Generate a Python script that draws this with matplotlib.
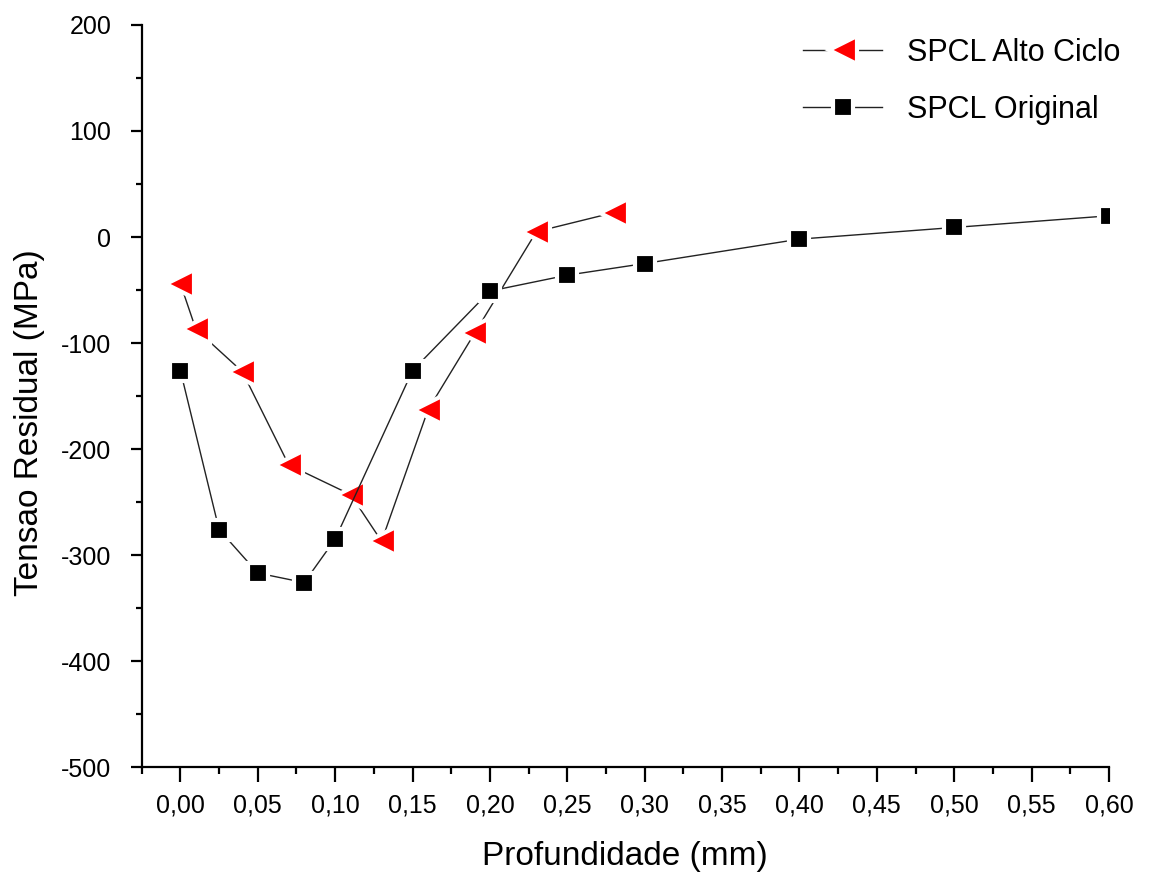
import matplotlib.pyplot as plt
from matplotlib.ticker import FuncFormatter, MultipleLocator

# data
prof_alto = [0.00, 0.01, 0.04, 0.07, 0.11, 0.13, 0.16, 0.19, 0.23, 0.28]
tensao_alto = [-44, -87, -127, -215, -243, -287, -163, -91, 5, 23]

prof_orig = [0.00, 0.025, 0.05, 0.08, 0.10, 0.15, 0.20, 0.25, 0.30, 0.40, 0.50, 0.60]
tensao_orig = [-126, -276, -317, -326, -285, -126, -51, -36, -25, -2, 9, 20]

plt.rcParams['font.family'] = ['Liberation Sans', 'DejaVu Sans']

fig = plt.figure(figsize=(11.52, 8.77), dpi=100)
ax = fig.add_axes([0.123, 0.1254, 0.8397, 0.8461])

ax.plot(prof_alto, tensao_alto, color='#222222', linewidth=1.0, marker='<',
        markersize=20, markerfacecolor='red', markeredgecolor='white',
        markeredgewidth=3, label='SPCL Alto Ciclo')
ax.plot(prof_orig, tensao_orig, color='#222222', linewidth=1.0, marker='s',
        markersize=14, markerfacecolor='black', markeredgecolor='white',
        markeredgewidth=3, label='SPCL Original')

ax.set_xlim(-0.025, 0.60)
ax.set_ylim(-500, 200)

ax.xaxis.set_major_locator(MultipleLocator(0.05))
ax.xaxis.set_minor_locator(MultipleLocator(0.025))
ax.yaxis.set_major_locator(MultipleLocator(100))
ax.yaxis.set_minor_locator(MultipleLocator(50))
ax.xaxis.set_major_formatter(FuncFormatter(lambda v, p: f'{v:.2f}'.replace('.', ',')))
ax.yaxis.set_major_formatter(FuncFormatter(lambda v, p: f'{v:.0f}'))

for spine in ('top', 'right'):
    ax.spines[spine].set_visible(False)
for spine in ('bottom', 'left'):
    ax.spines[spine].set_linewidth(1.6)

ax.tick_params(axis='x', which='major', direction='out', length=11, width=1.6,
               labelsize=18, pad=8)
ax.tick_params(axis='x', which='minor', direction='out', length=5, width=1.6)
ax.tick_params(axis='y', which='major', direction='out', length=8, width=1.6,
               labelsize=18, pad=14)
ax.tick_params(axis='y', which='minor', direction='out', length=4, width=1.6)

ax.set_xlabel('Profundidade (mm)', fontsize=24, labelpad=17)
ax.set_ylabel('Tensao Residual (MPa)', fontsize=24)
ax.yaxis.set_label_coords(-0.100, 0.464)

ax.legend(loc='upper right', bbox_to_anchor=(1.04, 1.02), frameon=False,
          fontsize=22, handlelength=2.6, handletextpad=0.8, labelspacing=0.9)

fig.savefig('out.png', dpi=100)
